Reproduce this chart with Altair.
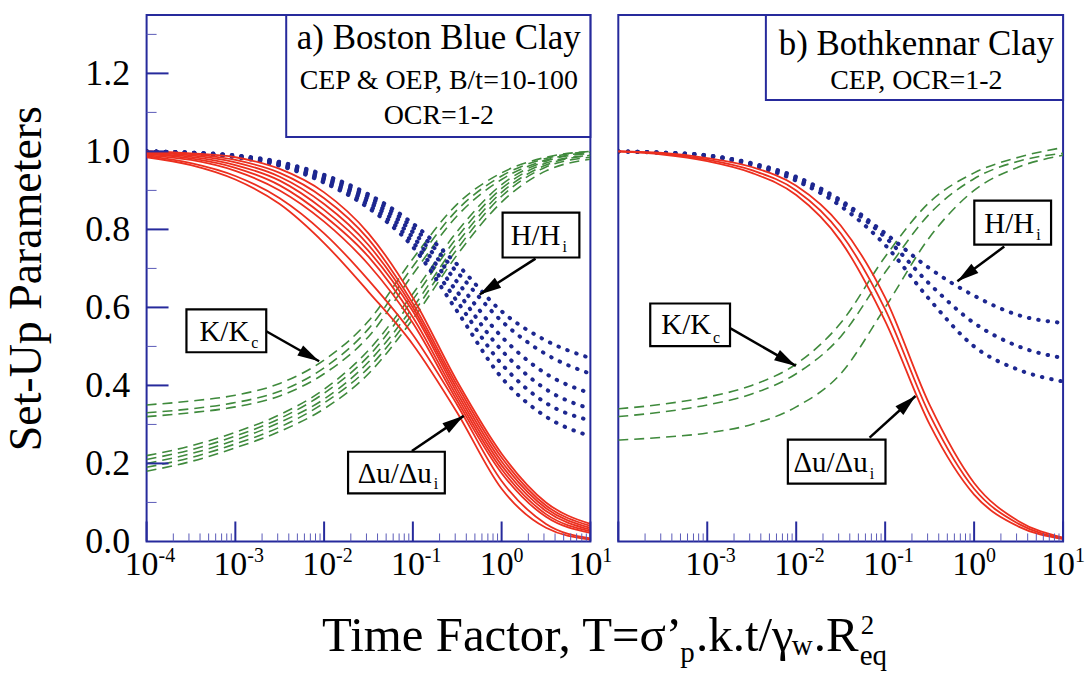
import math
import altair as alt
import pandas as pd

SERIF = "Liberation Serif"
NAVY = "#262a9c"
RED = "#ec2f1f"
BLUE = "#1d2790"
GREEN = "#3f8a3c"

W_LEFT, W_RIGHT, H = 445, 446, 528
T_MIN, T_MAX = 1e-4, 10.0
V_MAX = 1.35

# Time factor grid (log10 T) shared by every curve
LOG_T = [-4.0, -3.5, -3.0, -2.5, -2.0, -1.5, -1.0, -0.5, 0.0, 0.5, 1.0]

# (a) Boston Blue Clay: excess pore pressure ratio
BBC_DU = [
    [1.000, 0.995, 0.985, 0.955, 0.895, 0.790, 0.625, 0.410, 0.225, 0.100, 0.045],
    [1.000, 0.993, 0.978, 0.945, 0.880, 0.775, 0.610, 0.400, 0.215, 0.092, 0.040],
    [0.997, 0.990, 0.972, 0.935, 0.865, 0.760, 0.600, 0.390, 0.205, 0.085, 0.035],
    [0.995, 0.986, 0.965, 0.925, 0.850, 0.745, 0.590, 0.380, 0.195, 0.078, 0.030],
    [0.993, 0.982, 0.958, 0.913, 0.835, 0.730, 0.575, 0.370, 0.185, 0.070, 0.026],
    [0.990, 0.978, 0.950, 0.900, 0.820, 0.710, 0.560, 0.360, 0.175, 0.063, 0.022],
    [0.988, 0.970, 0.937, 0.880, 0.790, 0.670, 0.530, 0.350, 0.155, 0.045, 0.008],
    [0.985, 0.965, 0.928, 0.865, 0.765, 0.640, 0.505, 0.330, 0.135, 0.035, 0.005],
]
# (a) horizontal stress ratio
BBC_H = [
    [1.0, 0.997, 0.990, 0.973, 0.940, 0.890, 0.815, 0.710, 0.590, 0.515, 0.47],
    [1.0, 0.997, 0.989, 0.971, 0.936, 0.884, 0.805, 0.690, 0.565, 0.480, 0.43],
    [1.0, 0.996, 0.988, 0.969, 0.932, 0.877, 0.793, 0.665, 0.525, 0.430, 0.38],
    [1.0, 0.996, 0.987, 0.967, 0.928, 0.870, 0.780, 0.640, 0.490, 0.390, 0.34],
    [1.0, 0.995, 0.986, 0.965, 0.924, 0.862, 0.767, 0.615, 0.455, 0.355, 0.31],
    [1.0, 0.995, 0.985, 0.963, 0.920, 0.855, 0.755, 0.590, 0.420, 0.320, 0.27],
]
# (a) stress ratio K/Kc
BBC_K = [
    [0.35, 0.360, 0.375, 0.405, 0.465, 0.565, 0.725, 0.865, 0.945, 0.985, 1.000],
    [0.33, 0.340, 0.356, 0.385, 0.445, 0.545, 0.705, 0.850, 0.937, 0.982, 1.000],
    [0.32, 0.330, 0.345, 0.373, 0.430, 0.525, 0.685, 0.835, 0.928, 0.978, 0.998],
    [0.22, 0.245, 0.280, 0.325, 0.390, 0.490, 0.635, 0.795, 0.915, 0.975, 0.995],
    [0.21, 0.235, 0.270, 0.315, 0.380, 0.475, 0.620, 0.780, 0.905, 0.970, 0.990],
    [0.20, 0.225, 0.260, 0.305, 0.365, 0.460, 0.600, 0.765, 0.895, 0.965, 0.990],
    [0.19, 0.215, 0.250, 0.293, 0.355, 0.445, 0.585, 0.750, 0.885, 0.960, 0.985],
    [0.18, 0.205, 0.240, 0.282, 0.340, 0.430, 0.570, 0.735, 0.870, 0.950, 0.980],
]

# (b) Bothkennar Clay
BOT_DU = [
    [1.0, 0.996, 0.983, 0.960, 0.912, 0.810, 0.625, 0.350, 0.150, 0.052, 0.010],
    [1.0, 0.994, 0.979, 0.952, 0.900, 0.790, 0.595, 0.325, 0.135, 0.045, 0.008],
    [1.0, 0.992, 0.975, 0.945, 0.888, 0.770, 0.565, 0.300, 0.120, 0.038, 0.006],
]
BOT_H = [
    [1.0, 0.997, 0.990, 0.970, 0.935, 0.875, 0.790, 0.700, 0.630, 0.580, 0.560],
    [1.0, 0.997, 0.990, 0.968, 0.930, 0.870, 0.780, 0.660, 0.560, 0.500, 0.470],
    [1.0, 0.996, 0.988, 0.965, 0.925, 0.860, 0.760, 0.620, 0.500, 0.440, 0.410],
]
BOT_K = [
    [0.34, 0.352, 0.370, 0.400, 0.455, 0.560, 0.730, 0.870, 0.945, 0.985, 1.010],
    [0.32, 0.332, 0.350, 0.378, 0.430, 0.525, 0.690, 0.840, 0.930, 0.975, 0.995],
    [0.26, 0.267, 0.278, 0.300, 0.345, 0.430, 0.600, 0.780, 0.900, 0.960, 0.990],
]

# Panel headings: box (log T left, log T right, v bottom, v top), text centre (log T)
BBC_HEAD_BOX = (-2.427, 1.0, 1.037, V_MAX)
BBC_HEAD_X = -0.708
BBC_HEAD = [("a) Boston Blue Clay", 35, 1.262), ("CEP & OEP, B/t=10-100", 28, 1.160), ("OCR=1-2", 28, 1.070)]
BOT_HEAD_BOX = (-2.341, 1.0, 1.132, V_MAX)
BOT_HEAD_X = -0.65
BOT_HEAD = [("b) Bothkennar Clay", 35, 1.246), ("CEP, OCR=1-2", 28, 1.160)]

# Curve labels: box, main text end (log T, v), subscript v, arrow tail and head (log T, v)
BBC_LABELS = [
    dict(box=(0.011, 0.876, 0.728, 0.843), main="H/H", sub="i", tx=0.663, tv=0.761, sv=0.743,
         arrow=(0.382, 0.725, -0.247, 0.633)),
    dict(box=(-3.551, -2.652, 0.485, 0.595), main="K/K", sub="c", tx=-2.843, tv=0.513, sv=0.496,
         arrow=(-2.652, 0.539, -2.056, 0.462)),
    dict(box=(-1.730, -0.640, 0.123, 0.230), main="Δu/Δu", sub="i", tx=-0.787, tv=0.151, sv=0.135,
         arrow=(-1.011, 0.232, -0.427, 0.322)),
]
BOT_LABELS = [
    dict(box=(0.002, 0.865, 0.761, 0.874), main="H/H", sub="i", tx=0.675, tv=0.792, sv=0.774,
         arrow=(0.339, 0.756, -0.188, 0.667)),
    dict(box=(-3.641, -2.744, 0.501, 0.610), main="K/K", sub="c", tx=-2.957, tv=0.531, sv=0.508,
         arrow=(-2.744, 0.547, -2.004, 0.450)),
    dict(box=(-2.094, -0.996, 0.148, 0.261), main="Δu/Δu", sub="i", tx=-1.197, tv=0.179, sv=0.161,
         arrow=(-1.175, 0.266, -0.659, 0.373)),
]

Y_MAJOR = [0.0, 0.2, 0.4, 0.6, 0.8, 1.0, 1.2]
Y_MINOR = [0.1, 0.3, 0.5, 0.7, 0.9, 1.1, 1.3]
X_DECADES = [-4, -3, -2, -1, 0, 1]

# Axis title pieces: text, font size, x and baseline y (px from the left panel origin)
X_TITLE = [
    ("Time Factor, T=σ’", 49, 176, 638),
    ("p", 29, 535, 649),
    (".k.t/γ", 49, 551, 638),
    ("w", 29, 647, 642),
    (".R", 49, 669, 638),
    ("2", 27, 716, 621),
    ("eq", 29, 715, 652),
]

ARROW_HEAD = "M0,0L0.27,1L-0.27,1Z"

XS = alt.Scale(type="log", domain=[T_MIN, T_MAX], nice=False)
YS = alt.Scale(domain=[0, V_MAX], nice=False, zero=False)


def curve_frame(series, name):
    rows = []
    for i, s in enumerate(series):
        for lt, v in zip(LOG_T, s):
            rows.append({"curve": f"{name}{i}", "T": 10 ** lt, "v": v})
    return pd.DataFrame(rows)


def panel(du, hh, kk, head_box, head_x, head, labels, width, decades, show_y):
    if show_y:
        y_axis = alt.Axis(values=Y_MAJOR, format=".1f", labelFont=SERIF, labelFontSize=36,
                          labelColor="black", labelPadding=17, ticks=False, domain=False,
                          grid=False, title="Set-Up Parameters", titleFont=SERIF,
                          titleFontSize=46, titleFontWeight="normal", titleColor="black",
                          titlePadding=34)
    else:
        y_axis = None

    def X(field="T"):
        return alt.X(f"{field}:Q", scale=XS, axis=None)

    def Y(field="v"):
        return alt.Y(f"{field}:Q", scale=YS, axis=y_axis)

    px_dec = width / 5.0
    px_v = H / V_MAX

    layers = []
    # K/Kc dashed
    layers.append(alt.Chart(curve_frame(kk, "k")).mark_line(
        color=GREEN, strokeWidth=1.6, strokeDash=[10, 6], interpolate="monotone", clip=True
    ).encode(x=X(), y=Y(), detail="curve:N"))
    # H/Hi dotted
    layers.append(alt.Chart(curve_frame(hh, "h")).mark_line(
        color=BLUE, strokeWidth=4, strokeDash=[0.5, 9], strokeCap="round",
        interpolate="monotone", clip=True
    ).encode(x=X(), y=Y(), detail="curve:N"))
    # pore pressure solid
    layers.append(alt.Chart(curve_frame(du, "u")).mark_line(
        color=RED, strokeWidth=1.8, interpolate="monotone", clip=True
    ).encode(x=X(), y=Y(), detail="curve:N"))

    # inward x ticks
    major = pd.DataFrame({"T": [10.0 ** e for e in decades]})
    minor = pd.DataFrame({"T": [m * 10.0 ** e for e in decades[:-1] for m in range(2, 10)]})
    layers.append(alt.Chart(major).mark_rule(color=NAVY, strokeWidth=2).encode(
        x=X(), y=alt.value(H), y2=alt.value(H - 20)))
    layers.append(alt.Chart(minor).mark_rule(color="#5a5ab8", strokeWidth=1).encode(
        x=X(), y=alt.value(H), y2=alt.value(H - 8)))

    # decade labels 10^n
    shown = [e for e in decades if show_y or e > -4]
    lab = pd.DataFrame({"T": [10.0 ** e for e in shown], "exp": [str(e) for e in shown]})
    layers.append(alt.Chart(lab).mark_text(
        font=SERIF, fontSize=34, align="center", baseline="alphabetic", dx=-5, color="black"
    ).encode(x=X(), y=alt.value(H + 34), text=alt.value("10")))
    layers.append(alt.Chart(lab).mark_text(
        font=SERIF, fontSize=20, align="left", baseline="alphabetic", dx=12, color="black"
    ).encode(x=X(), y=alt.value(H + 21), text="exp:N"))

    if show_y:
        ymaj = pd.DataFrame({"v": Y_MAJOR[1:]})
        ymin = pd.DataFrame({"v": Y_MINOR})
        layers.append(alt.Chart(ymaj).mark_rule(color=NAVY, strokeWidth=2).encode(
            y=Y(), x=alt.value(0), x2=alt.value(22)))
        layers.append(alt.Chart(ymin).mark_rule(color="#5a5ab8", strokeWidth=1).encode(
            y=Y(), x=alt.value(0), x2=alt.value(10)))

    # heading box
    hb = pd.DataFrame([{"T": 10 ** head_box[0], "T2": 10 ** head_box[1],
                        "v": head_box[2], "v2": head_box[3]}])
    layers.append(alt.Chart(hb).mark_rect(fill="white", stroke=NAVY, strokeWidth=2).encode(
        x=X(), x2="T2:Q", y=Y(), y2="v2:Q"))
    ht = pd.DataFrame([{"T": 10 ** head_x, "v": v, "txt": t, "fs": fs} for t, fs, v in head])
    layers.append(alt.Chart(ht).mark_text(
        font=SERIF, align="center", baseline="alphabetic", color="black"
    ).encode(x=X(), y=Y(), text="txt:N", size=alt.Size("fs:Q", scale=None, legend=None)))

    # labelled boxes with arrows
    boxes, mains, subs, tails, heads = [], [], [], [], []
    for d in labels:
        b = d["box"]
        boxes.append({"T": 10 ** b[0], "T2": 10 ** b[1], "v": b[2], "v2": b[3]})
        mains.append({"T": 10 ** d["tx"], "v": d["tv"], "txt": d["main"]})
        subs.append({"T": 10 ** d["tx"], "v": d["sv"], "txt": d["sub"]})
        a = d["arrow"]
        tails.append({"T": 10 ** a[0], "v": a[1], "T2": 10 ** a[2], "v2": a[3]})
        dx = (a[2] - a[0]) * px_dec
        dy = -(a[3] - a[1]) * px_v
        ang = math.degrees(math.atan2(dx, -dy)) % 360
        heads.append({"T": 10 ** a[2], "v": a[3], "ang": ang})
    layers.append(alt.Chart(pd.DataFrame(tails)).mark_rule(color="black", strokeWidth=2.5).encode(
        x=X(), x2="T2:Q", y=Y(), y2="v2:Q"))
    layers.append(alt.Chart(pd.DataFrame(heads)).mark_point(
        shape=ARROW_HEAD, filled=True, color="black", opacity=1, size=1900, strokeWidth=0
    ).encode(x=X(), y=Y(), angle=alt.Angle("ang:Q", scale=None)))
    layers.append(alt.Chart(pd.DataFrame(boxes)).mark_rect(
        fill="white", stroke="black", strokeWidth=2.2
    ).encode(x=X(), x2="T2:Q", y=Y(), y2="v2:Q"))
    layers.append(alt.Chart(pd.DataFrame(mains)).mark_text(
        font=SERIF, fontSize=29, align="right", baseline="alphabetic", color="black"
    ).encode(x=X(), y=Y(), text="txt:N"))
    layers.append(alt.Chart(pd.DataFrame(subs)).mark_text(
        font=SERIF, fontSize=16, align="left", baseline="alphabetic", dx=2, color="black"
    ).encode(x=X(), y=Y(), text="txt:N"))

    if show_y:
        for txt, fs, px, py in X_TITLE:
            layers.append(alt.Chart(pd.DataFrame({"t": [txt]})).mark_text(
                font=SERIF, fontSize=fs, align="left", baseline="alphabetic", color="black"
            ).encode(x=alt.value(px), y=alt.value(py), text="t:N"))

    return alt.layer(*layers).properties(width=width, height=H)


left = panel(BBC_DU, BBC_H, BBC_K, BBC_HEAD_BOX, BBC_HEAD_X, BBC_HEAD, BBC_LABELS,
             W_LEFT, X_DECADES, True)
right = panel(BOT_DU, BOT_H, BOT_K, BOT_HEAD_BOX, BOT_HEAD_X, BOT_HEAD, BOT_LABELS,
              W_RIGHT, X_DECADES, False)

chart = alt.hconcat(left, right, spacing=28, bounds="flush").properties(
    padding={"left": 3, "top": 12, "right": 5, "bottom": 3},
    background="white",
).configure_view(stroke=NAVY, strokeWidth=2)

chart.save("out.html", embed_options={"renderer": "svg", "actions": False})
